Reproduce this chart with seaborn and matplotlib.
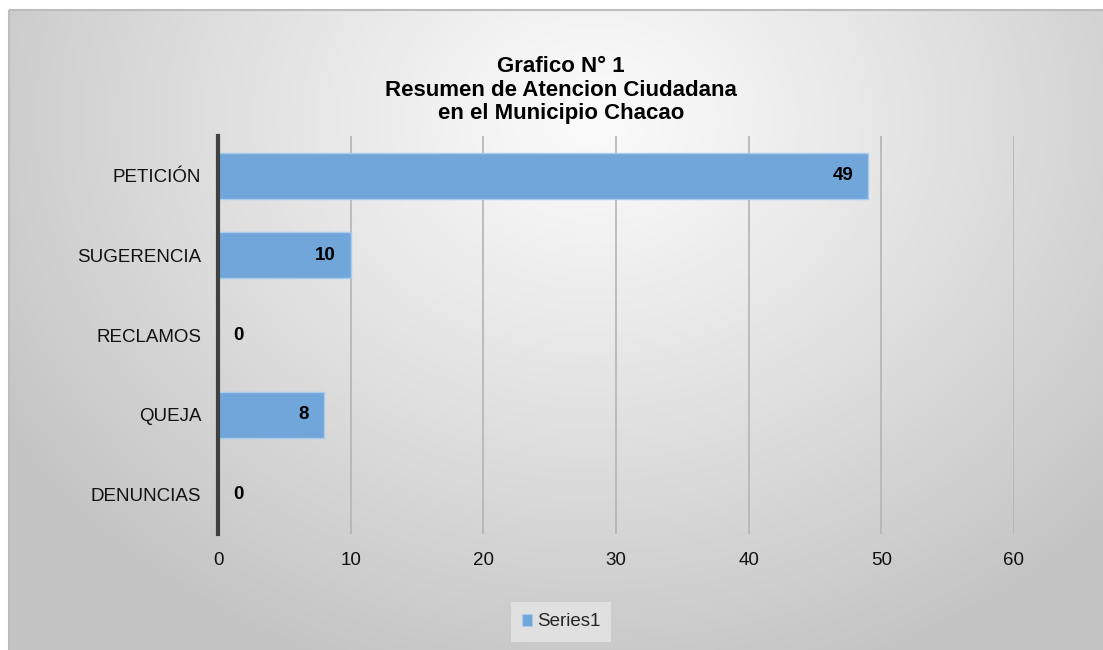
import numpy as np
import pandas as pd
import matplotlib
matplotlib.use("Agg")
import matplotlib.pyplot as plt
from matplotlib.patches import Patch, Rectangle
import seaborn as sns

# Data
categories = ["PETICIÓN", "SUGERENCIA", "RECLAMOS", "QUEJA", "DENUNCIAS"]
values = [49, 10, 0, 8, 0]
series_name = "Series1"
x_ticks = [0, 10, 20, 30, 40, 50, 60]
title_lines = ["Grafico N° 1", "Resumen de Atencion Ciudadana", "en el Municipio Chacao"]

BAR_COLOR = "#70a6d9"
BAR_EDGE = "#a8cbee"

sns.set_theme(style="white")
plt.rcParams["font.family"] = ["Liberation Sans", "DejaVu Sans"]

W, H = 1103, 650
fig = plt.figure(figsize=(W / 100, H / 100), dpi=100)
fig.patch.set_facecolor("white")

# Radial gradient chart-area background with a thin border
bg = fig.add_axes([0, 0, 1, 1], zorder=-10)
bg.set_xlim(0, W)
bg.set_ylim(H, 0)
bg.axis("off")
yy, xx = np.mgrid[0:H, 0:W]
r = np.sqrt(((xx - 590) / 1.0) ** 2 + ((yy - 110) / 0.85) ** 2)
shade = 0.985 - 0.215 * np.clip(r / 700, 0, 1) ** 1.1
img = np.dstack([shade, shade, shade])
bg.imshow(img, extent=(9, W, H, 10), aspect="auto", interpolation="bilinear")
bg.add_patch(Rectangle((9, 10), W + 5, H + 5, fill=False, edgecolor="#bdbdbd", linewidth=1.5))

df = pd.DataFrame({"categoria": categories, "valor": values})

ax = fig.add_axes([218 / W, 1 - 534 / H, (1014 - 218) / W, (534 - 136) / H])
ax.set_facecolor("none")
sns.barplot(data=df, x="valor", y="categoria", orient="h", color=BAR_COLOR,
            saturation=1, width=0.58, edgecolor=BAR_EDGE, linewidth=1.0, ax=ax, zorder=3)

ax.set_xlim(0, 60)
ax.set_xticks(x_ticks)
ax.set_xticklabels([str(t) for t in x_ticks])
ax.set_xlabel("")
ax.set_ylabel("")
ax.grid(axis="x", color="#b4b4b4", linewidth=1.2, zorder=0)
ax.grid(axis="y", visible=False)
ax.set_axisbelow(True)
for side in ["top", "right", "bottom"]:
    ax.spines[side].set_visible(False)
ax.spines["left"].set_color("#404040")
ax.spines["left"].set_linewidth(3)
ax.spines["left"].set_zorder(5)
ax.tick_params(axis="y", length=0, pad=12, labelsize=13.5, labelcolor="#111111")
ax.tick_params(axis="x", length=0, pad=13, labelsize=13.5, labelcolor="#111111")

# Value labels: inside the bar end, or just past the axis for zero values
for i, v in enumerate(values):
    if v > 0:
        ax.annotate(str(v), xy=(v, i), xytext=(-15, 0), textcoords="offset pixels",
                    ha="right", va="center", fontsize=13.5, fontweight="bold", color="black", zorder=6)
    else:
        ax.annotate(str(v), xy=(v, i), xytext=(15, 0), textcoords="offset pixels",
                    ha="left", va="center", fontsize=13.5, fontweight="bold", color="black", zorder=6)

fig.text(561 / W, 1 - 90 / H, "\n".join(title_lines), ha="center", va="center",
         fontsize=16, fontweight="bold", color="black", linespacing=1.13)

handle = Patch(facecolor=BAR_COLOR, edgecolor=BAR_EDGE, linewidth=0.8, label=series_name)
leg = fig.legend(handles=[handle], loc="center", bbox_to_anchor=(561 / W, 1 - 622 / H),
                 frameon=True, fontsize=13.5, handlelength=0.55, handleheight=0.55,
                 handletextpad=0.25, borderpad=0.6, fancybox=False)
leg.get_frame().set_facecolor("#e0e0e0")
leg.get_frame().set_edgecolor("none")
leg.get_frame().set_alpha(1)

fig.savefig("out.png", dpi=100)
